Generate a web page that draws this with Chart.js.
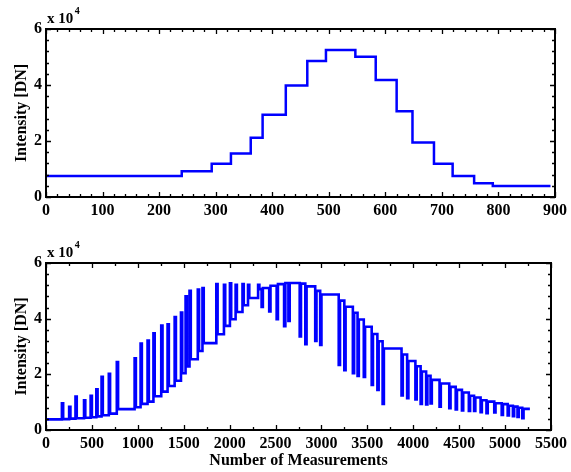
<!DOCTYPE html>
<html>
<head>
<meta charset="utf-8">
<script src="https://cdn.jsdelivr.net/npm/chart.js@4/dist/chart.umd.min.js"></script>
<style>
  html, body { margin: 0; padding: 0; background: #fff; }
  #wrap { position: relative; width: 571px; height: 472px; }
  canvas { position: absolute; left: 0; }
  #c1 { top: 0; }
  #c2 { top: 234px; }
</style>
</head>
<body>
<div id="wrap">
  <canvas id="c1" width="571" height="236"></canvas>
  <canvas id="c2" width="571" height="238"></canvas>
</div>
<script>
// ---------- Top panel: step profile (measurement index vs intensity) ----------
const topStepStart = [0, 240, 293, 327, 362, 383, 424, 462, 495, 547, 583, 620, 648, 686, 719, 757, 790];
const topStepLevel = [7500, 9200, 11900, 15500, 21200, 29400, 39800, 48600, 52500, 50100, 41800, 30600, 19500, 11900, 7500, 4900, 3900];
const topEnd = 892;

// ---------- Bottom panel: baseline steps with spikes ----------
const botStartLevel = 3800;
const botEventX = [173, 252, 321, 414, 486, 548, 605, 684, 771, 965, 1030, 1106, 1170, 1255, 1324, 1401, 1470, 1520, 1563, 1653, 1704, 1855, 1938, 2003, 2065, 2140, 2200, 2310,
  2348, 2431, 2512, 2593, 2640, 2763, 2824, 2932, 2986, 3188, 3249, 3342, 3393, 3461, 3547, 3609, 3666, 3872, 3933, 4023, 4080, 4140, 4188, 4286, 4392, 4462, 4530, 4605, 4662, 4733, 4797, 4882, 4963, 5028, 5085, 5135, 5187];
const botEventPeak = [9600, 8300, 12000, 10700, 12300, 14600, 19100, 20200, 24400, 25800, 31100, 32100, 34700, 37500, 38000, 40600, 42200, 48000, 50000, 50500, 51000, 52400, 52200, 52700, 52200, 52400, 52200, 52200,
  44200, 42600, 39800, 37300, 39200, 33600, 30800, 32000, 30600, 23400, 21500, 20400, 19400, 19100, 16200, 14400, 9400, 12400, 11400, 11000, 9400, 9200, 9500, 8400, 7800, 7400, 7000, 6800, 6800, 6400, 6000, 6300, 5400, 5200, 5000, 4700, 4200];
const botLevelAfter = [3900, 4100, 4200, 4400, 4600, 4900, 5300, 5900, 7500, 8200, 9400, 10200, 12100, 13800, 15800, 17700, 20400, 22800, 25400, 28400, 31200, 34400, 37400, 39800, 42400, 44800, 47400, 50600,
  51000, 51800, 52400, 52800, 52800, 52600, 51600, 50000, 48700, 46500, 44300, 42100, 39700, 37100, 34500, 31900, 29300, 27100, 24800, 22900, 21000, 19500, 18000, 16700, 15500, 14400, 13500, 12300, 11700, 10700, 10200, 9600, 9300, 8700, 8400, 8000, 7600];
const botEnd = 5270;

const yTickLabels = ['0', '2', '4', '6'];

const BLUE = 'rgb(0,0,255)';
const FONT = "'Liberation Serif', 'Times New Roman', serif";

function topPoints() {
  const pts = topStepStart.map((x, i) => ({ x: x, y: topStepLevel[i] }));
  pts.push({ x: topEnd, y: topStepLevel[topStepLevel.length - 1] });
  return pts;
}

function botPoints() {
  const w = 14;
  const pts = [{ x: 0, y: botStartLevel }];
  let prev = botStartLevel;
  botEventX.forEach((x, i) => {
    pts.push({ x: x, y: prev });
    pts.push({ x: x, y: botEventPeak[i] });
    pts.push({ x: x + w, y: botEventPeak[i] });
    pts.push({ x: x + w, y: botLevelAfter[i] });
    prev = botLevelAfter[i];
  });
  pts.push({ x: botEnd, y: prev });
  return pts;
}

const frameTicks = {
  id: 'frameTicks',
  afterDraw(chart, args, opts) {
    const ctx = chart.ctx;
    const a = chart.chartArea;
    const xs = chart.scales.x, ys = chart.scales.y;
    ctx.save();
    ctx.strokeStyle = '#000';
    ctx.lineWidth = 1.3;
    const majL = 5, minL = 3;
    for (let v = xs.min; v <= xs.max + 1e-6; v += opts.xMinor) {
      const p = Math.round(xs.getPixelForValue(v)) + 0.5;
      const isMaj = Math.abs(v / opts.xMajor - Math.round(v / opts.xMajor)) < 1e-6;
      const L = isMaj ? majL : minL;
      ctx.beginPath();
      ctx.moveTo(p, a.bottom); ctx.lineTo(p, a.bottom - L);
      ctx.moveTo(p, a.top); ctx.lineTo(p, a.top + L);
      ctx.stroke();
    }
    for (let v = ys.min; v <= ys.max + 1e-6; v += opts.yMinor) {
      const p = Math.round(ys.getPixelForValue(v)) + 0.5;
      const isMaj = Math.abs(v / opts.yMajor - Math.round(v / opts.yMajor)) < 1e-6;
      const L = isMaj ? majL : minL;
      ctx.beginPath();
      ctx.moveTo(a.left, p); ctx.lineTo(a.left + L, p);
      ctx.moveTo(a.right, p); ctx.lineTo(a.right - L, p);
      ctx.stroke();
    }
    ctx.lineWidth = 2;
    ctx.strokeRect(a.left, a.top, a.right - a.left, a.bottom - a.top);
    ctx.fillStyle = '#000';
    ctx.textBaseline = 'alphabetic';
    ctx.textAlign = 'left';
    ctx.font = "bold 15px " + FONT;
    ctx.fillText('x 10', a.left + 1, a.top - 6);
    const w = ctx.measureText('x 10').width;
    ctx.font = "bold 10px " + FONT;
    ctx.fillText('4', a.left + 1 + w + 1.5, a.top - 15);
    ctx.restore();
  }
};

function makeChart(id, points, xMax, xStep, xMinor, H, lineW, xTitle) {
  return new Chart(document.getElementById(id), {
    type: 'line',
    data: {
      datasets: [{
        data: points,
        borderColor: BLUE,
        borderWidth: lineW,
        pointRadius: 0,
        fill: false,
        tension: 0,
        stepped: id === 'c1',
        borderJoinStyle: 'miter',
        borderCapStyle: 'butt'
      }]
    },
    options: {
      responsive: false,
      animation: false,
      events: [],
      layout: { padding: { left: 0, right: 16, top: 29, bottom: 0 } },
      plugins: {
        legend: { display: false },
        tooltip: { enabled: false },
        frameTicks: { xMajor: xStep, xMinor: xMinor, yMajor: 20000, yMinor: 4000 }
      },
      scales: {
        x: {
          type: 'linear',
          min: 0, max: xMax,
          grid: { display: false, drawTicks: false },
          border: { display: false },
          ticks: {
            stepSize: xStep, autoSkip: false, maxRotation: 0, padding: 4,
            color: '#000',
            font: { family: FONT, size: 16, weight: 'bold' },
            callback: (v) => String(v)
          },
          title: {
            display: !!xTitle, text: xTitle || '', color: '#000',
            font: { family: FONT, size: 16, weight: 'bold' },
            padding: { top: 0, bottom: 2 }
          },
          afterFit: s => { s.height = H; }
        },
        y: {
          type: 'linear',
          min: 0, max: 60000,
          grid: { display: false, drawTicks: false },
          border: { display: false },
          ticks: {
            stepSize: 20000, padding: 4, color: '#000',
            font: { family: FONT, size: 16, weight: 'bold' },
            callback: (v) => yTickLabels[Math.round(v / 20000)]
          },
          title: {
            display: true, text: 'Intensity [DN]', color: '#000',
            font: { family: FONT, size: 16, weight: 'bold' },
            padding: { top: 12, bottom: 0 }
          },
          afterFit: s => { s.width = 46; }
        }
      }
    },
    plugins: [frameTicks]
  });
}

makeChart('c1', topPoints(), 900, 100, 20, 236 - 197, 2.5, null);
makeChart('c2', botPoints(), 5500, 500, 250, 238 - 196, 2.6, 'Number of Measurements');
</script>
</body>
</html>
